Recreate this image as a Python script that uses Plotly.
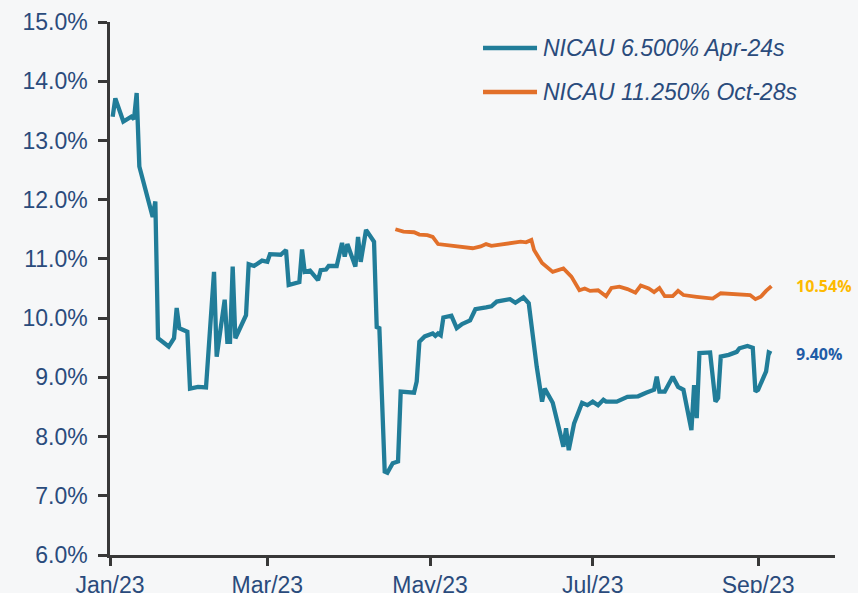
import plotly.graph_objects as go

# ---- data ----
apr24_dates = [
    "2023-01-02", "2023-01-03", "2023-01-06", "2023-01-09", "2023-01-10", "2023-01-11",
    "2023-01-12", "2023-01-17", "2023-01-18", "2023-01-19", "2023-01-23", "2023-01-25",
    "2023-01-26", "2023-01-27", "2023-01-30", "2023-01-31", "2023-02-03", "2023-02-06",
    "2023-02-09", "2023-02-10", "2023-02-13", "2023-02-14", "2023-02-15", "2023-02-16",
    "2023-02-17", "2023-02-21", "2023-02-22", "2023-02-24", "2023-02-27", "2023-03-01",
    "2023-03-02", "2023-03-06", "2023-03-08", "2023-03-09", "2023-03-13", "2023-03-14",
    "2023-03-15", "2023-03-17", "2023-03-20", "2023-03-21", "2023-03-23", "2023-03-24",
    "2023-03-27", "2023-03-29", "2023-03-30", "2023-03-31", "2023-04-03", "2023-04-04",
    "2023-04-05", "2023-04-07", "2023-04-10", "2023-04-11", "2023-04-12", "2023-04-14",
    "2023-04-15", "2023-04-17", "2023-04-19", "2023-04-20", "2023-04-25", "2023-04-26",
    "2023-04-27", "2023-04-29", "2023-05-02", "2023-05-03", "2023-05-04", "2023-05-05",
    "2023-05-06", "2023-05-09", "2023-05-11", "2023-05-13", "2023-05-16", "2023-05-18",
    "2023-05-22", "2023-05-24", "2023-05-26", "2023-05-31", "2023-06-02", "2023-06-05",
    "2023-06-07", "2023-06-08", "2023-06-10", "2023-06-12", "2023-06-13", "2023-06-16",
    "2023-06-20", "2023-06-21", "2023-06-22", "2023-06-24", "2023-06-27", "2023-06-29",
    "2023-07-01", "2023-07-03", "2023-07-05", "2023-07-06", "2023-07-10", "2023-07-14",
    "2023-07-18", "2023-07-21", "2023-07-24", "2023-07-25", "2023-07-26", "2023-07-28",
    "2023-07-31", "2023-08-02", "2023-08-04", "2023-08-07", "2023-08-08", "2023-08-09",
    "2023-08-10", "2023-08-14", "2023-08-16", "2023-08-17", "2023-08-18", "2023-08-21",
    "2023-08-24", "2023-08-25", "2023-08-28", "2023-08-30", "2023-08-31", "2023-09-01",
    "2023-09-04", "2023-09-05", "2023-09-06",
]
apr24_yield = [
    13.40, 13.71, 13.32, 13.40, 13.36, 13.80,
    12.56, 11.71, 11.97, 9.66, 9.52, 9.66,
    10.17, 9.83, 9.77, 8.81, 8.84, 8.83,
    10.78, 9.35, 10.31, 9.60, 9.60, 10.87,
    9.66, 10.05, 10.91, 10.88, 10.97, 10.95,
    11.08, 11.07, 11.15, 10.56, 10.61, 11.16,
    10.78, 10.80, 10.64, 10.81, 10.82, 10.88,
    10.88, 11.27, 11.04, 11.25, 10.87, 11.37,
    10.95, 11.49, 11.29, 9.85, 9.83, 7.41,
    7.39, 7.55, 7.58, 8.76, 8.74, 8.93,
    9.60, 9.69, 9.74, 9.70, 9.74, 9.71,
    10.01, 10.04, 9.83, 9.90, 9.96, 10.15,
    10.18, 10.20, 10.28, 10.32, 10.26, 10.35,
    10.25, 9.85, 9.18, 8.59, 8.81, 8.57,
    7.83, 8.14, 7.77, 8.22, 8.57, 8.53,
    8.59, 8.53, 8.62, 8.59, 8.59, 8.67,
    8.68, 8.74, 8.79, 9.01, 8.76, 8.76,
    9.01, 8.84, 8.79, 8.11, 8.87, 8.31,
    9.41, 9.42, 8.59, 8.65, 9.35, 9.38,
    9.43, 9.49, 9.53, 9.50, 8.76, 8.79,
    9.10, 9.42, 9.40,
]

oct28_dates = [
    "2023-04-18", "2023-04-21", "2023-04-25", "2023-04-27", "2023-04-30", "2023-05-02",
    "2023-05-04", "2023-05-10", "2023-05-17", "2023-05-20", "2023-05-22", "2023-05-24",
    "2023-05-30", "2023-06-04", "2023-06-06", "2023-06-08", "2023-06-09", "2023-06-12",
    "2023-06-16", "2023-06-20", "2023-06-23", "2023-06-26", "2023-06-28", "2023-06-30",
    "2023-07-03", "2023-07-06", "2023-07-08", "2023-07-11", "2023-07-14", "2023-07-17",
    "2023-07-19", "2023-07-22", "2023-07-24", "2023-07-26", "2023-07-28", "2023-07-31",
    "2023-08-02", "2023-08-04", "2023-08-09", "2023-08-15", "2023-08-18", "2023-08-22",
    "2023-08-24", "2023-08-29", "2023-08-31", "2023-09-02", "2023-09-04", "2023-09-06",
]
oct28_yield = [
    11.50, 11.46, 11.45, 11.41, 11.40, 11.37,
    11.25, 11.22, 11.18, 11.21, 11.25, 11.22,
    11.26, 11.29, 11.28, 11.32, 11.15, 10.93,
    10.78, 10.84, 10.70, 10.47, 10.50, 10.46,
    10.47, 10.37, 10.51, 10.53, 10.49, 10.43,
    10.55, 10.50, 10.44, 10.51, 10.37, 10.37,
    10.46, 10.39, 10.36, 10.33, 10.42, 10.41,
    10.39, 10.39, 10.32, 10.36, 10.46, 10.54,
]

series_names = ["NICAU 6.500% Apr-24s", "NICAU 11.250% Oct-28s"]
tick_dates = ["2023-01-01", "2023-03-01", "2023-05-01", "2023-07-01", "2023-09-01"]
tick_labels = ["Jan/23", "Mar/23", "May/23", "Jul/23", "Sep/23"]

# ---- styling ----
BLUE = "#217D99"
ORANGE = "#E2702A"
NAVY = "#2A4B7C"
AXIS = "#383838"
BG = "#F6F7F8"
FONT = "Liberation Sans, Arial, sans-serif"
LABEL_FONT = "Open Sans, sans-serif"

fig = go.Figure()
fig.add_trace(go.Scatter(x=apr24_dates, y=apr24_yield, mode="lines", name=series_names[0],
                         line=dict(color=BLUE, width=4.3), showlegend=False))
fig.add_trace(go.Scatter(x=oct28_dates, y=oct28_yield, mode="lines", name=series_names[1],
                         line=dict(color=ORANGE, width=3.8), showlegend=False))

# manual legend
legend_rows = [(0.951, BLUE, series_names[0]), (0.8687, ORANGE, series_names[1])]
for yy, col, txt in legend_rows:
    fig.add_shape(type="line", xref="paper", yref="paper", x0=0.5145, x1=0.589, y0=yy, y1=yy,
                  line=dict(color=col, width=4.5))
    fig.add_annotation(xref="paper", yref="paper", x=0.595, y=yy, xanchor="left", yanchor="middle",
                       text="<i>" + txt + "</i>", showarrow=False,
                       font=dict(family=FONT, size=23, color=NAVY))

# end labels
fig.add_annotation(xref="paper", yref="y", x=0.944, y=oct28_yield[-1], xanchor="left", yanchor="middle",
                   text="<b>%.2f%%</b>" % oct28_yield[-1], showarrow=False,
                   font=dict(family=LABEL_FONT, size=16, color="#FDBA00"))
fig.add_annotation(xref="paper", yref="y", x=0.944, y=apr24_yield[-1], xanchor="left", yanchor="middle",
                   text="<b>%.2f%%</b>" % apr24_yield[-1], showarrow=False,
                   font=dict(family=LABEL_FONT, size=16, color="#1F5BA6"))

fig.update_layout(
    width=858, height=593,
    margin=dict(l=110, r=23, t=22, b=38, autoexpand=False),
    paper_bgcolor=BG, plot_bgcolor=BG,
    font=dict(family=FONT, size=23, color=NAVY),
    xaxis=dict(
        type="date", range=["2023-01-01", "2023-09-29 20:00"], automargin=False,
        tickmode="array", tickvals=tick_dates, ticktext=tick_labels,
        showgrid=False, zeroline=False,
        showline=True, linecolor=AXIS, linewidth=2.5,
        ticks="outside", ticklen=8, tickwidth=2.5, tickcolor=AXIS,
        tickfont=dict(family=FONT, size=23, color=NAVY),
    ),
    yaxis=dict(
        range=[6, 15], dtick=1, tickformat=".1f", ticksuffix="%", automargin=False,
        showgrid=False, zeroline=False,
        showline=True, linecolor=AXIS, linewidth=2.5,
        ticks="outside", ticklen=9, tickwidth=2.5, tickcolor=AXIS,
        tickfont=dict(family=FONT, size=23, color=NAVY),
        ticklabelstandoff=6,
    ),
)

fig.write_html(
    "out.html",
    config={"displayModeBar": False},
    post_script="document.body.style.margin='0';document.body.style.background='%s';" % BG,
)
